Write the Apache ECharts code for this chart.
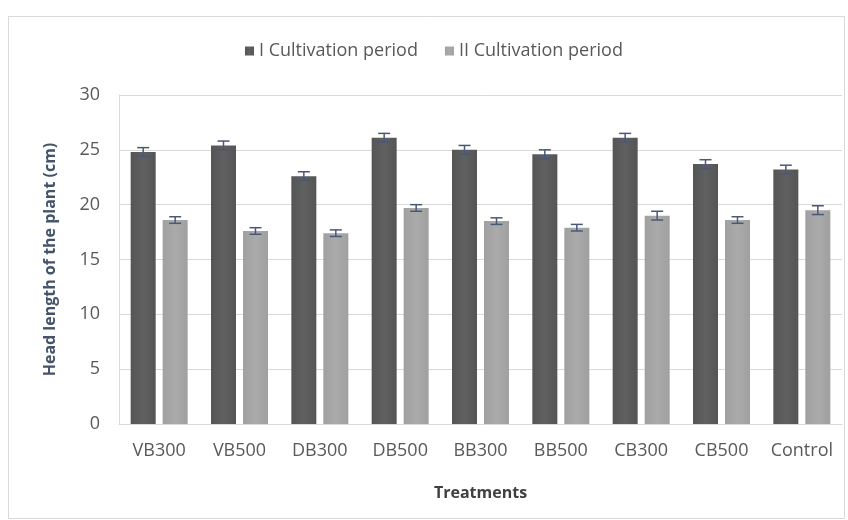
<!DOCTYPE html>
<html><head><meta charset="utf-8">
<script src="https://cdn.jsdelivr.net/npm/echarts@6/dist/echarts.min.js"></script>
<style>html,body{margin:0;padding:0;background:#fff}#c{width:848px;height:520px}</style>
</head><body><div id="c"></div>
<script>
const categories = ['VB300','VB500','DB300','DB500','BB300','BB500','CB300','CB500','Control'];
const seriesNames = ['I Cultivation period','II Cultivation period'];
const period1 = [24.8, 25.4, 22.6, 26.1, 25.0, 24.6, 26.1, 23.7, 23.2];
const period2 = [18.6, 17.6, 17.4, 19.7, 18.5, 17.9, 19.0, 18.6, 19.5];
const err1 = [0.4, 0.4, 0.4, 0.4, 0.4, 0.4, 0.4, 0.4, 0.4];
const err2 = [0.3, 0.3, 0.3, 0.3, 0.3, 0.3, 0.4, 0.3, 0.4];
const yTicks = [0, 5, 10, 15, 20, 25, 30];

const BW = 25, GAP = 7;
const off = (BW + GAP) / 2;
const FONT = 'Open Sans';

function errSeries(vals, errs, dx) {
  return {
    type: 'custom',
    silent: true,
    z: 5,
    data: vals.map((v, i) => [i, v, errs[i]]),
    renderItem: function (params, api) {
      const i = api.value(0), v = api.value(1), e = api.value(2);
      const hi = api.coord([i, v + e]);
      const lo = api.coord([i, v - e]);
      const x = hi[0] + dx;
      const cap = 6;
      const st = { stroke: '#4a5878', lineWidth: 1.5 };
      return { type: 'group', children: [
        { type: 'line', shape: { x1: x, y1: hi[1], x2: x, y2: lo[1] }, style: st },
        { type: 'line', shape: { x1: x - cap, y1: hi[1], x2: x + cap, y2: hi[1] }, style: st },
        { type: 'line', shape: { x1: x - cap, y1: lo[1], x2: x + cap, y2: lo[1] }, style: st }
      ]};
    }
  };
}

const chart = echarts.init(document.getElementById('c'));
chart.setOption({
  animation: false,
  textStyle: { fontFamily: FONT },
  graphic: [{ type: 'rect', shape: { x: 8.5, y: 16.5, width: 836, height: 502 },
    style: { fill: 'none', stroke: '#d9d9d9', lineWidth: 1 }, silent: true }],
  legend: {
    data: seriesNames,
    top: 37, left: 240,
    itemWidth: 9, itemHeight: 9, itemGap: 27,
    icon: 'rect',
    textStyle: { color: '#595959', fontSize: 18, fontFamily: FONT }
  },
  grid: { left: 119, right: 6, top: 95, bottom: 96 },
  xAxis: {
    type: 'category', data: categories,
    name: 'Treatments', nameLocation: 'middle', nameGap: 61,
    nameTextStyle: { color: '#404040', fontWeight: 'bold', fontSize: 16, fontFamily: FONT },
    axisLine: { lineStyle: { color: '#d9d9d9' } },
    axisTick: { show: false },
    axisLabel: { color: '#595959', fontSize: 18, margin: 18, fontFamily: FONT, interval: 0, hideOverlap: false }
  },
  yAxis: {
    type: 'value', min: 0, max: 30, interval: 5,
    name: 'Head length of the plant (cm)', nameLocation: 'middle', nameGap: 61,
    nameTextStyle: { color: '#44546a', fontWeight: 'bold', fontSize: 16, fontFamily: FONT },
    axisLine: { show: true, lineStyle: { color: '#d9d9d9' } },
    axisTick: { show: false },
    splitLine: { lineStyle: { color: '#d9d9d9' } },
    axisLabel: { color: '#595959', fontSize: 18, margin: 19, fontFamily: FONT,
      formatter: v => yTicks.includes(v) ? String(v) : '' }
  },
  series: [
    { name: seriesNames[0], type: 'bar', data: period1, barWidth: BW, barGap: (GAP / BW * 100) + '%',
      itemStyle: { color: new echarts.graphic.LinearGradient(0, 0, 1, 0, [
        { offset: 0, color: '#555555' }, { offset: 0.5, color: '#606060' }, { offset: 1, color: '#555555' }]) } },
    { name: seriesNames[1], type: 'bar', data: period2, barWidth: BW,
      itemStyle: { color: new echarts.graphic.LinearGradient(0, 0, 1, 0, [
        { offset: 0, color: '#a0a0a0' }, { offset: 0.5, color: '#aaaaaa' }, { offset: 1, color: '#a0a0a0' }]) } },
    errSeries(period1, err1, -off),
    errSeries(period2, err2, off)
  ]
});
</script></body></html>
